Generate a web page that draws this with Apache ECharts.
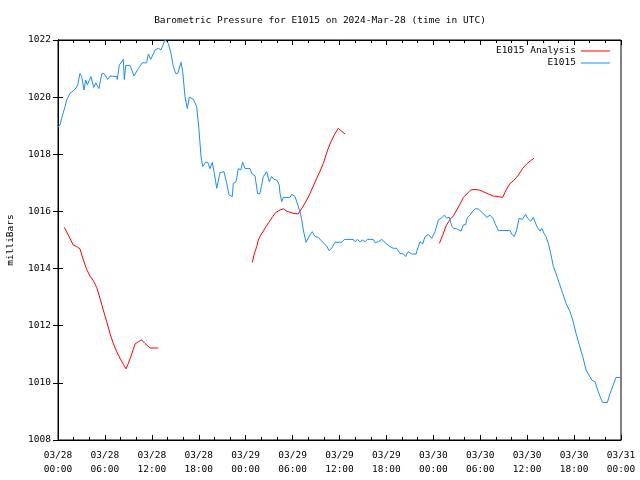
<!DOCTYPE html>
<html><head><meta charset="utf-8">
<script src="https://cdn.jsdelivr.net/npm/echarts@6/dist/echarts.min.js"></script>
<style>html,body{margin:0;padding:0;background:#fff}#c{width:640px;height:480px}</style>
</head><body><div id="c"></div>
<script>
// Hours since 2024-03-28 00:00 UTC
const xTickLabels = ["03/28\n00:00","03/28\n06:00","03/28\n12:00","03/28\n18:00","03/29\n00:00","03/29\n06:00","03/29\n12:00","03/29\n18:00","03/30\n00:00","03/30\n06:00","03/30\n12:00","03/30\n18:00","03/31\n00:00"];

const obsHours = [0,0.26,0.47,0.9,1.11,1.53,2.17,2.52,2.81,3.03,3.33,3.54,3.75,4.22,4.57,4.82,5.24,5.59,5.88,6.36,6.65,7.51,7.58,7.84,8.35,8.48,8.66,9.21,9.72,10.27,10.78,11.34,11.55,11.86,12.41,12.83,13.17,13.68,14.11,14.45,14.75,15.05,15.31,15.73,15.95,16.24,16.54,16.79,17.3,17.74,18.03,18.29,18.51,18.89,19.15,19.44,19.73,19.99,20.3,20.72,21.23,21.58,21.87,22.29,22.42,22.77,23.06,23.37,23.62,23.92,24.56,24.77,25.19,25.54,25.83,26.26,26.69,27.02,27.33,27.62,27.97,28.3,28.39,28.61,28.81,29.67,29.89,30.31,30.53,30.95,31.17,31.37,31.72,32.14,32.52,32.87,33.29,33.93,34.36,34.66,35.0,35.43,36.28,36.62,37.77,37.98,38.28,38.62,38.97,39.26,39.56,39.99,40.32,40.54,40.96,41.4,41.95,42.46,42.88,43.32,43.74,44.16,44.47,44.6,44.8,45.24,45.79,46.08,46.3,46.64,46.94,47.36,47.79,48.22,48.64,49.07,49.41,49.71,50.04,50.35,50.56,50.99,51.54,51.84,52.12,52.35,52.69,53.04,53.33,53.75,54.19,54.61,54.83,55.25,55.67,55.89,56.31,57.81,58.03,58.36,58.67,58.96,59.38,59.81,60.07,60.45,60.79,61.0,61.3,61.64,61.86,62.16,62.41,62.71,63.01,63.35,63.69,64.11,64.55,64.97,65.48,65.83,66.25,66.67,67.11,67.53,67.82,68.26,68.68,69.02,69.32,69.66,70.25,70.6,71.02,71.36,71.87];
const obsPressure = [1018.95,1019.02,1019.26,1019.67,1019.9,1020.13,1020.27,1020.43,1020.83,1020.72,1020.25,1020.6,1020.43,1020.72,1020.34,1020.5,1020.3,1020.81,1020.83,1020.62,1020.74,1020.72,1020.62,1021.12,1021.32,1020.62,1021.11,1021.11,1020.74,1021.0,1021.2,1021.2,1021.51,1021.32,1021.65,1021.71,1021.65,1022.0,1021.88,1021.53,1021.07,1020.83,1020.83,1021.22,1020.89,1020.02,1019.6,1020.0,1019.93,1019.67,1018.85,1017.92,1017.57,1017.72,1017.72,1017.5,1017.72,1017.33,1016.81,1017.36,1017.39,1016.98,1016.58,1016.52,1016.98,1017.04,1017.5,1017.45,1017.72,1017.5,1017.5,1017.33,1017.25,1016.61,1016.63,1017.22,1017.39,1017.04,1017.22,1017.12,1017.1,1016.92,1016.63,1016.34,1016.49,1016.49,1016.6,1016.52,1016.34,1015.99,1015.7,1015.35,1014.92,1015.14,1015.29,1015.12,1015.09,1014.9,1014.79,1014.63,1014.71,1014.92,1014.92,1015.02,1015.02,1014.94,1015.02,1014.94,1015.0,1014.94,1015.02,1015.02,1015.02,1014.9,1014.94,1015.02,1014.88,1014.77,1014.71,1014.71,1014.53,1014.51,1014.42,1014.51,1014.59,1014.51,1014.51,1014.77,1014.94,1014.86,1015.12,1015.2,1015.06,1015.29,1015.7,1015.78,1015.87,1015.76,1015.8,1015.5,1015.41,1015.39,1015.31,1015.53,1015.53,1015.79,1015.87,1016.01,1016.09,1016.09,1015.97,1015.87,1015.79,1015.87,1015.74,1015.58,1015.33,1015.33,1015.2,1015.12,1015.37,1015.76,1015.72,1015.9,1015.76,1015.66,1015.79,1015.64,1015.44,1015.31,1015.41,1015.23,1015.12,1014.88,1014.53,1014.07,1013.83,1013.48,1013.13,1012.78,1012.49,1012.2,1011.73,1011.33,1010.92,1010.45,1010.31,1010.1,1010.04,1009.75,1009.52,1009.31,1009.31,1009.63,1009.93,1010.19,1010.19];

const an1Hours = [0.81,1.32,1.96,2.39,2.81,3.24,3.67,4.09,4.51,4.95,5.37,5.79,6.23,6.65,7.07,7.51,7.93,8.35,8.7,8.99,9.43,9.85,10.27,10.7,11.13,11.77,12.83];
const an1Pressure = [1015.44,1015.17,1014.82,1014.77,1014.69,1014.3,1013.97,1013.74,1013.58,1013.34,1012.96,1012.55,1012.14,1011.73,1011.38,1011.09,1010.86,1010.65,1010.49,1010.68,1011.01,1011.36,1011.44,1011.5,1011.38,1011.22,1011.22];
const an2Hours = [24.85,25.07,25.41,25.62,25.92,26.26,26.6,27.02,27.46,27.84,28.39,28.82,29.25,29.67,30.18,30.73,30.95,31.37,31.81,32.23,32.65,33.09,33.51,33.93,34.28,34.57,34.91,35.34,35.85,36.16,36.71];
const an2Pressure = [1014.22,1014.48,1014.77,1015.0,1015.17,1015.31,1015.47,1015.64,1015.82,1015.96,1016.05,1016.09,1016.01,1015.97,1015.93,1015.91,1016.01,1016.19,1016.4,1016.63,1016.89,1017.16,1017.41,1017.68,1017.98,1018.21,1018.44,1018.68,1018.91,1018.83,1018.71];
const an3Hours = [48.77,49.2,49.62,50.13,50.56,50.99,51.41,51.84,52.27,52.78,53.33,53.88,54.39,55.03,55.67,56.31,56.87,57.3,57.81,58.36,58.87,59.43,59.94,60.45,60.88];
const an3Pressure = [1014.88,1015.17,1015.49,1015.72,1015.84,1016.05,1016.26,1016.49,1016.61,1016.75,1016.77,1016.75,1016.69,1016.61,1016.54,1016.52,1016.49,1016.75,1016.98,1017.1,1017.27,1017.51,1017.66,1017.78,1017.86];

const RED = '#ff0000', BLUE = '#1a8cff';
const FONT = 'DejaVu Sans Mono';
const zip = (a, b) => a.map((v, i) => [v, b[i]]);

const chart = echarts.init(document.getElementById('c'), null, {renderer: 'canvas'});
const tickStyle = {show: true, inside: true, length: 5, lineStyle: {color: '#000', width: 1}};
const minorStyle = {show: true, splitNumber: 3, length: 3, lineStyle: {color: '#000', width: 1}};
const lineSeries = (name, data, color) => ({
  name, type: 'line', data, showSymbol: false, symbol: 'none',
  lineStyle: {color, width: 1}, itemStyle: {color}, animation: false, z: 3
});
const legendText = {fontFamily: FONT, fontSize: 9.5, color: '#000'};

chart.setOption({
  animation: false,
  backgroundColor: '#fff',
  textStyle: {fontFamily: FONT},
  title: {
    text: 'Barometric Pressure for E1015 on 2024-Mar-28 (time in UTC)',
    left: 'center', top: 11,
    textStyle: {fontFamily: FONT, fontSize: 9.5, fontWeight: 'normal', color: '#000'}
  },
  grid: {left: 58, right: 19, top: 40, bottom: 40, show: true, borderColor: '#000', borderWidth: 1,
         backgroundColor: 'transparent', containLabel: false, outerBoundsMode: 'none'},
  legend: [
    {data: ['E1015 Analysis'], right: 30, top: 46, align: 'right', icon: 'rect', itemWidth: 29, itemHeight: 1,
     itemGap: 6, textStyle: legendText, padding: 0, selectedMode: false},
    {data: ['E1015'], right: 30, top: 58, align: 'right', icon: 'rect', itemWidth: 29, itemHeight: 1,
     itemGap: 6, textStyle: legendText, padding: 0, selectedMode: false}
  ],
  xAxis: [
    {type: 'value', min: 0, max: 72, interval: 6, position: 'bottom',
     axisLine: {show: true, lineStyle: {color: '#000'}}, axisTick: tickStyle, minorTick: minorStyle,
     splitLine: {show: false},
     axisLabel: {margin: 9, lineHeight: 14, fontFamily: FONT, fontSize: 9.5, color: '#000',
       formatter: v => xTickLabels[Math.round(v / 6)]}},
    {type: 'value', min: 0, max: 72, interval: 6, position: 'top',
     axisLine: {show: true, lineStyle: {color: '#000'}}, axisTick: tickStyle, minorTick: minorStyle,
     splitLine: {show: false}, axisLabel: {show: false}}
  ],
  yAxis: [
    {type: 'value', min: 1008, max: 1022, interval: 2, position: 'left',
     name: 'milliBars', nameLocation: 'middle', nameRotate: 90, nameGap: 42,
     nameTextStyle: {fontFamily: FONT, fontSize: 9.5, color: '#000'},
     axisLine: {show: true, lineStyle: {color: '#000'}}, axisTick: tickStyle,
     splitLine: {show: false},
     axisLabel: {margin: 7, fontFamily: FONT, fontSize: 9.5, color: '#000', formatter: v => String(v)}},
    {type: 'value', min: 1008, max: 1022, interval: 2, position: 'right',
     axisLine: {show: true, lineStyle: {color: '#000'}}, axisTick: tickStyle,
     splitLine: {show: false}, axisLabel: {show: false}}
  ],
  series: [
    lineSeries('E1015 Analysis', zip(an1Hours, an1Pressure), RED),
    lineSeries('E1015 Analysis', zip(an2Hours, an2Pressure), RED),
    lineSeries('E1015 Analysis', zip(an3Hours, an3Pressure), RED),
    lineSeries('E1015', zip(obsHours, obsPressure), BLUE)
  ]
});
</script></body></html>
